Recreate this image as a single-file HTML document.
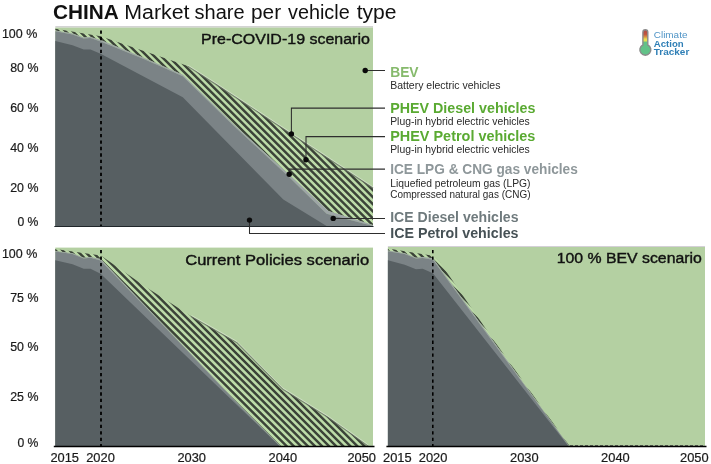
<!DOCTYPE html>
<html><head><meta charset="utf-8"><title>CHINA Market share per vehicle type</title>
<style>
html,body{margin:0;padding:0;background:#fff;}
svg{display:block;font-family:"Liberation Sans",sans-serif;}
</style></head>
<body>
<svg width="711" height="464" viewBox="0 0 711 464">
<defs>

</defs>
<rect width="711" height="464" fill="#fff"/>
<g id="panel-precovid">
<line x1="55.3" y1="26.8" x2="373.0" y2="26.8" stroke="#c4c4c4" stroke-width="1.2"/>
<rect x="55.3" y="27.6" width="317.7" height="198.4" fill="#b4d0a2"/>
<clipPath id="hc1"><polygon points="55.3,28.8 100.6,36.2 143.8,51.1 187.8,66.0 217.1,84.8 265.0,116.4 373.0,187.8 373.0,225.0 328.4,211.0 288.5,174.0 233.4,124.0 182.8,74.8 165.0,67.0 143.8,57.7 100.6,40.1 90.5,37.1 83.7,37.6 72.5,33.5 55.3,30.4"/></clipPath><g clip-path="url(#hc1)"><polygon points="55.3,28.8 100.6,36.2 143.8,51.1 187.8,66.0 217.1,84.8 265.0,116.4 373.0,187.8 373.0,225.0 328.4,211.0 288.5,174.0 233.4,124.0 182.8,74.8 165.0,67.0 143.8,57.7 100.6,40.1 90.5,37.1 83.7,37.6 72.5,33.5 55.3,30.4" fill="#bcdba8"/><path d="M372.3 26.8L375.0 29.5M365.2 26.8L375.0 36.6M358.1 26.8L375.0 43.7M351.1 26.8L375.0 50.7M344.0 26.8L375.0 57.8M336.9 26.8L375.0 64.9M329.8 26.8L375.0 72.0M322.8 26.8L375.0 79.0M315.7 26.8L375.0 86.1M308.6 26.8L375.0 93.2M301.6 26.8L375.0 100.2M294.5 26.8L375.0 107.3M287.4 26.8L375.0 114.4M280.3 26.8L375.0 121.5M273.3 26.8L375.0 128.5M266.2 26.8L375.0 135.6M259.1 26.8L375.0 142.7M252.1 26.8L375.0 149.7M245.0 26.8L375.0 156.8M237.9 26.8L375.0 163.9M230.8 26.8L375.0 171.0M223.8 26.8L375.0 178.0M216.7 26.8L375.0 185.1M209.6 26.8L375.0 192.2M202.6 26.8L375.0 199.2M195.5 26.8L375.0 206.3M188.4 26.8L375.0 213.4M181.3 26.8L375.0 220.5M174.3 26.8L374.5 227.0M167.2 26.8L367.4 227.0M160.1 26.8L360.3 227.0M153.1 26.8L353.3 227.0M146.0 26.8L346.2 227.0M138.9 26.8L339.1 227.0M131.8 26.8L332.0 227.0M124.8 26.8L325.0 227.0M117.7 26.8L317.9 227.0M110.6 26.8L310.8 227.0M103.6 26.8L303.8 227.0M96.5 26.8L296.7 227.0M89.4 26.8L289.6 227.0M82.4 26.8L282.6 227.0M75.3 26.8L275.5 227.0M68.2 26.8L268.4 227.0M61.1 26.8L261.3 227.0M54.1 26.8L254.3 227.0M53.3 33.1L247.2 227.0M53.3 40.2L240.1 227.0M53.3 47.2L233.1 227.0M53.3 54.3L226.0 227.0M53.3 61.4L218.9 227.0M53.3 68.5L211.8 227.0M53.3 75.5L204.8 227.0M53.3 82.6L197.7 227.0M53.3 89.7L190.6 227.0M53.3 96.7L183.6 227.0M53.3 103.8L176.5 227.0M53.3 110.9L169.4 227.0M53.3 118.0L162.3 227.0M53.3 125.0L155.3 227.0M53.3 132.1L148.2 227.0M53.3 139.2L141.1 227.0M53.3 146.2L134.1 227.0M53.3 153.3L127.0 227.0M53.3 160.4L119.9 227.0M53.3 167.5L112.8 227.0M53.3 174.5L105.8 227.0M53.3 181.6L98.7 227.0M53.3 188.7L91.6 227.0M53.3 195.7L84.6 227.0M53.3 202.8L77.5 227.0M53.3 209.9L70.4 227.0M53.3 217.0L63.3 227.0M53.3 224.0L56.3 227.0" stroke="#3b4338" stroke-width="2.45" fill="none"/></g>
<polyline points="187.8,66.3 217.1,85.1 265.0,116.7 373.0,188.1" fill="none" stroke="#687264" stroke-width="1.3" stroke-opacity="0.75"/><polyline points="187.8,65.1 217.1,83.9 265.0,115.5 373.0,186.9" fill="none" stroke="#e6eede" stroke-width="1.0" stroke-opacity="0.55"/>
<polygon points="55.3,30.4 72.5,33.5 83.7,37.6 90.5,37.1 100.6,40.1 143.8,57.7 165.0,67.0 182.8,74.8 233.4,124.0 288.5,174.0 328.4,211.0 373.0,225.0 373.0,226.0 326.6,213.7 288.5,176.5 233.4,125.5 182.8,76.2 165.0,68.2 143.8,58.9 100.6,41.4 90.5,38.1 83.7,38.6 72.5,34.4 55.3,31.2" fill="#9ea5a7"/>
<polygon points="55.3,31.2 72.5,34.4 83.7,38.6 90.5,38.1 100.6,41.4 143.8,58.9 165.0,68.2 182.8,76.2 233.4,125.5 288.5,176.5 326.6,213.7 373.0,226.0 373.0,226.0 326.6,226.0 55.3,226.0" fill="#7b8386"/>
<polygon points="55.3,40.9 72.5,45.2 83.7,49.5 90.5,49.5 100.6,53.7 182.8,97.2 283.3,199.5 326.6,226.0 326.6,226.0 55.3,226.0" fill="#575f62"/>
<line x1="101" y1="30.4" x2="101" y2="226.0" stroke="#000" stroke-width="1.8" stroke-dasharray="3.3 3.17"/>
<line x1="54.3" y1="226.5" x2="373.5" y2="226.5" stroke="#20262a" stroke-width="1.1"/>
</g>
<g id="panel-current">
<rect x="55.3" y="247.6" width="317.7" height="198.29999999999998" fill="#b4d0a2"/>
<clipPath id="hc2"><polygon points="55.3,248.9 100.8,255.5 146.2,287.3 191.6,316.4 237.0,342.4 282.8,388.9 327.9,417.0 368.4,445.9 280.5,445.9 234.8,400.0 177.9,340.0 100.6,259.0 90.5,256.9 83.7,257.7 72.5,253.2 55.3,250.9"/></clipPath><g clip-path="url(#hc2)"><polygon points="55.3,248.9 100.8,255.5 146.2,287.3 191.6,316.4 237.0,342.4 282.8,388.9 327.9,417.0 368.4,445.9 280.5,445.9 234.8,400.0 177.9,340.0 100.6,259.0 90.5,256.9 83.7,257.7 72.5,253.2 55.3,250.9" fill="#bcdba8"/><path d="M370.3 246.9L370.4 247.0M363.2 246.9L370.4 254.1M356.1 246.9L370.4 261.2M349.0 246.9L370.4 268.3M342.0 246.9L370.4 275.3M334.9 246.9L370.4 282.4M327.8 246.9L370.4 289.5M320.8 246.9L370.4 296.5M313.7 246.9L370.4 303.6M306.6 246.9L370.4 310.7M299.6 246.9L370.4 317.7M292.5 246.9L370.4 324.8M285.4 246.9L370.4 331.9M278.3 246.9L370.4 339.0M271.3 246.9L370.4 346.0M264.2 246.9L370.4 353.1M257.1 246.9L370.4 360.2M250.1 246.9L370.4 367.2M243.0 246.9L370.4 374.3M235.9 246.9L370.4 381.4M228.8 246.9L370.4 388.5M221.8 246.9L370.4 395.5M214.7 246.9L370.4 402.6M207.6 246.9L370.4 409.7M200.6 246.9L370.4 416.7M193.5 246.9L370.4 423.8M186.4 246.9L370.4 430.9M179.3 246.9L370.4 438.0M172.3 246.9L370.4 445.0M165.2 246.9L366.2 447.9M158.1 246.9L359.1 447.9M151.1 246.9L352.1 447.9M144.0 246.9L345.0 447.9M136.9 246.9L337.9 447.9M129.8 246.9L330.8 447.9M122.8 246.9L323.8 447.9M115.7 246.9L316.7 447.9M108.6 246.9L309.6 447.9M101.6 246.9L302.6 447.9M94.5 246.9L295.5 447.9M87.4 246.9L288.4 447.9M80.3 246.9L281.3 447.9M73.3 246.9L274.3 447.9M66.2 246.9L267.2 447.9M59.1 246.9L260.1 447.9M53.3 248.1L253.1 447.9M53.3 255.2L246.0 447.9M53.3 262.3L238.9 447.9M53.3 269.3L231.9 447.9M53.3 276.4L224.8 447.9M53.3 283.5L217.7 447.9M53.3 290.6L210.6 447.9M53.3 297.6L203.6 447.9M53.3 304.7L196.5 447.9M53.3 311.8L189.4 447.9M53.3 318.8L182.4 447.9M53.3 325.9L175.3 447.9M53.3 333.0L168.2 447.9M53.3 340.1L161.1 447.9M53.3 347.1L154.1 447.9M53.3 354.2L147.0 447.9M53.3 361.3L139.9 447.9M53.3 368.3L132.9 447.9M53.3 375.4L125.8 447.9M53.3 382.5L118.7 447.9M53.3 389.6L111.6 447.9M53.3 396.6L104.6 447.9M53.3 403.7L97.5 447.9M53.3 410.8L90.4 447.9M53.3 417.8L83.4 447.9M53.3 424.9L76.3 447.9M53.3 432.0L69.2 447.9M53.3 439.1L62.1 447.9M53.3 446.1L55.1 447.9" stroke="#3b4338" stroke-width="2.45" fill="none"/></g>
<polyline points="191.6,316.7 237.0,342.7 282.8,389.2 327.9,417.3 368.4,446.2" fill="none" stroke="#687264" stroke-width="1.3" stroke-opacity="0.75"/><polyline points="191.6,315.5 237.0,341.5 282.8,388.0 327.9,416.1 368.4,445.0" fill="none" stroke="#e6eede" stroke-width="1.0" stroke-opacity="0.55"/>
<polygon points="55.3,250.9 72.5,253.2 83.7,257.7 90.5,256.9 100.6,259.0 177.9,340.0 234.8,400.0 280.5,445.9 280.0,445.9 234.8,400.6 177.9,340.7 100.6,260.4 90.5,257.7 83.7,258.6 72.5,254.0 55.3,251.6" fill="#9ea5a7"/>
<polygon points="55.3,251.6 72.5,254.0 83.7,258.6 90.5,257.7 100.6,260.4 177.9,340.7 234.8,400.6 280.0,445.9 280.0,445.9 55.3,445.9" fill="#7b8386"/>
<polygon points="55.3,260.2 72.5,264.3 83.7,268.8 90.5,268.8 100.6,273.7 279.5,445.9 55.3,445.9" fill="#575f62"/>
<line x1="101" y1="250" x2="101" y2="445.9" stroke="#000" stroke-width="1.8" stroke-dasharray="3.3 3.17"/>
<line x1="53.8" y1="446.5" x2="374.5" y2="446.5" stroke="#000" stroke-width="1.35"/>
</g>
<g id="panel-bev">
<line x1="387.9" y1="246.5" x2="705.0" y2="246.5" stroke="#cfcbd2" stroke-width="0.9"/>
<rect x="387.9" y="247.0" width="317.1" height="198.89999999999998" fill="#b4d0a2"/>
<clipPath id="hc3"><polygon points="387.9,248.5 432.9,255.7 440.0,262.6 495.3,342.5 569.6,445.9 569.1,445.9 494.7,343.0 432.9,258.3 422.7,257.0 416.0,257.7 404.7,253.2 387.9,250.6"/></clipPath><g clip-path="url(#hc3)"><polygon points="387.9,248.5 432.9,255.7 440.0,262.6 495.3,342.5 569.6,445.9 569.1,445.9 494.7,343.0 432.9,258.3 422.7,257.0 416.0,257.7 404.7,253.2 387.9,250.6" fill="#bcdba8"/><path d="M567.9 246.5L571.6 250.2M560.8 246.5L571.6 257.3M553.7 246.5L571.6 264.4M546.6 246.5L571.6 271.5M539.6 246.5L571.6 278.5M532.5 246.5L571.6 285.6M525.4 246.5L571.6 292.7M518.4 246.5L571.6 299.7M511.3 246.5L571.6 306.8M504.2 246.5L571.6 313.9M497.1 246.5L571.6 321.0M490.1 246.5L571.6 328.0M483.0 246.5L571.6 335.1M475.9 246.5L571.6 342.2M468.9 246.5L571.6 349.2M461.8 246.5L571.6 356.3M454.7 246.5L571.6 363.4M447.6 246.5L571.6 370.5M440.6 246.5L571.6 377.5M433.5 246.5L571.6 384.6M426.4 246.5L571.6 391.7M419.4 246.5L571.6 398.7M412.3 246.5L571.6 405.8M405.2 246.5L571.6 412.9M398.1 246.5L571.6 420.0M391.1 246.5L571.6 427.0M385.9 248.4L571.6 434.1M385.9 255.5L571.6 441.2M385.9 262.5L571.3 447.9M385.9 269.6L564.2 447.9M385.9 276.7L557.1 447.9M385.9 283.8L550.0 447.9M385.9 290.8L543.0 447.9M385.9 297.9L535.9 447.9M385.9 305.0L528.8 447.9M385.9 312.0L521.8 447.9M385.9 319.1L514.7 447.9M385.9 326.2L507.6 447.9M385.9 333.2L500.6 447.9M385.9 340.3L493.5 447.9M385.9 347.4L486.4 447.9M385.9 354.5L479.3 447.9M385.9 361.5L472.3 447.9M385.9 368.6L465.2 447.9M385.9 375.7L458.1 447.9M385.9 382.7L451.1 447.9M385.9 389.8L444.0 447.9M385.9 396.9L436.9 447.9M385.9 404.0L429.8 447.9M385.9 411.0L422.8 447.9M385.9 418.1L415.7 447.9M385.9 425.2L408.6 447.9M385.9 432.2L401.6 447.9M385.9 439.3L394.5 447.9M385.9 446.4L387.4 447.9" stroke="#3b4338" stroke-width="2.45" fill="none"/></g>
<polygon points="387.9,250.6 404.7,253.2 416.0,257.7 422.7,257.0 432.9,258.3 494.7,343.0 569.1,445.9 568.8,445.9 494.3,344.0 432.9,259.7 422.7,257.9 416.0,258.6 404.7,254.0 387.9,251.3" fill="#9ea5a7"/>
<polygon points="387.9,251.3 404.7,254.0 416.0,258.6 422.7,257.9 432.9,259.7 494.3,344.0 568.8,445.9 569.5,445.9 387.9,445.9" fill="#7b8386"/>
<polygon points="387.9,260.2 404.7,264.7 416.0,269.2 422.7,268.8 432.9,273.3 568.3,445.9 387.9,445.9" fill="#575f62"/>
<line x1="432.8" y1="250" x2="432.8" y2="445.9" stroke="#000" stroke-width="1.6" stroke-dasharray="3.3 3.17"/>
<line x1="570" y1="445.5" x2="705.0" y2="445.5" stroke="#333" stroke-width="0.7" stroke-dasharray="3 2"/>
<line x1="386.4" y1="446.5" x2="706.5" y2="446.5" stroke="#000" stroke-width="1.35"/>
</g>
<g id="leaders">
<path d="M365.2 70.5H385" fill="none" stroke="#2e2e2e" stroke-width="1.05"/>
<circle cx="365.2" cy="70.5" r="2.7" fill="#0a0a0a"/>
<path d="M291.4 133.9V108.1H385" fill="none" stroke="#2e2e2e" stroke-width="1.05"/>
<circle cx="291.4" cy="133.9" r="2.7" fill="#0a0a0a"/>
<path d="M306 159.7V136.6H385" fill="none" stroke="#2e2e2e" stroke-width="1.05"/>
<circle cx="306" cy="159.7" r="2.7" fill="#0a0a0a"/>
<path d="M289.2 174.3V169.1H385" fill="none" stroke="#2e2e2e" stroke-width="1.05"/>
<circle cx="289.2" cy="174.3" r="2.7" fill="#0a0a0a"/>
<path d="M333.2 218.4H385" fill="none" stroke="#2e2e2e" stroke-width="1.05"/>
<circle cx="333.2" cy="218.4" r="2.7" fill="#0a0a0a"/>
<path d="M249.5 220.1V233.5H385" fill="none" stroke="#2e2e2e" stroke-width="1.05"/>
<circle cx="249.5" cy="220.1" r="2.7" fill="#0a0a0a"/>
</g>
<g id="labels">
<text x="37.3" y="38.2" font-size="12" fill="#1a1a1a" text-anchor="end" textLength="35.4" lengthAdjust="spacingAndGlyphs" stroke="#1a1a1a" stroke-width="0.2">100 %</text>
<text x="38.4" y="72.0" font-size="12" fill="#1a1a1a" text-anchor="end" textLength="28.2" lengthAdjust="spacingAndGlyphs" stroke="#1a1a1a" stroke-width="0.2">80 %</text>
<text x="38.4" y="111.6" font-size="12" fill="#1a1a1a" text-anchor="end" textLength="28.2" lengthAdjust="spacingAndGlyphs" stroke="#1a1a1a" stroke-width="0.2">60 %</text>
<text x="38.4" y="151.6" font-size="12" fill="#1a1a1a" text-anchor="end" textLength="28.2" lengthAdjust="spacingAndGlyphs" stroke="#1a1a1a" stroke-width="0.2">40 %</text>
<text x="38.4" y="191.6" font-size="12" fill="#1a1a1a" text-anchor="end" textLength="28.2" lengthAdjust="spacingAndGlyphs" stroke="#1a1a1a" stroke-width="0.2">20 %</text>
<text x="38.4" y="226.0" font-size="12" fill="#1a1a1a" text-anchor="end" textLength="21.0" lengthAdjust="spacingAndGlyphs" stroke="#1a1a1a" stroke-width="0.2">0 %</text>
<text x="37.3" y="257.5" font-size="12" fill="#1a1a1a" text-anchor="end" textLength="35.4" lengthAdjust="spacingAndGlyphs" stroke="#1a1a1a" stroke-width="0.2">100 %</text>
<text x="38.4" y="301.6" font-size="12" fill="#1a1a1a" text-anchor="end" textLength="28.2" lengthAdjust="spacingAndGlyphs" stroke="#1a1a1a" stroke-width="0.2">75 %</text>
<text x="38.4" y="351.3" font-size="12" fill="#1a1a1a" text-anchor="end" textLength="28.2" lengthAdjust="spacingAndGlyphs" stroke="#1a1a1a" stroke-width="0.2">50 %</text>
<text x="38.4" y="400.8" font-size="12" fill="#1a1a1a" text-anchor="end" textLength="28.2" lengthAdjust="spacingAndGlyphs" stroke="#1a1a1a" stroke-width="0.2">25 %</text>
<text x="38.4" y="447.4" font-size="12" fill="#1a1a1a" text-anchor="end" textLength="21.0" lengthAdjust="spacingAndGlyphs" stroke="#1a1a1a" stroke-width="0.2">0 %</text>
<text x="50.4" y="461.8" font-size="12" fill="#1a1a1a" textLength="28.6" lengthAdjust="spacingAndGlyphs" stroke="#1a1a1a" stroke-width="0.2">2015</text>
<text x="100.5" y="461.8" font-size="12" fill="#1a1a1a" text-anchor="middle" textLength="28.6" lengthAdjust="spacingAndGlyphs" stroke="#1a1a1a" stroke-width="0.2">2020</text>
<text x="191.7" y="461.8" font-size="12" fill="#1a1a1a" text-anchor="middle" textLength="28.6" lengthAdjust="spacingAndGlyphs" stroke="#1a1a1a" stroke-width="0.2">2030</text>
<text x="282.8" y="461.8" font-size="12" fill="#1a1a1a" text-anchor="middle" textLength="28.6" lengthAdjust="spacingAndGlyphs" stroke="#1a1a1a" stroke-width="0.2">2040</text>
<text x="376.0" y="461.8" font-size="12" fill="#1a1a1a" text-anchor="end" textLength="28.6" lengthAdjust="spacingAndGlyphs" stroke="#1a1a1a" stroke-width="0.2">2050</text>
<text x="383.0" y="461.8" font-size="12" fill="#1a1a1a" textLength="28.6" lengthAdjust="spacingAndGlyphs" stroke="#1a1a1a" stroke-width="0.2">2015</text>
<text x="433.09999999999997" y="461.8" font-size="12" fill="#1a1a1a" text-anchor="middle" textLength="28.6" lengthAdjust="spacingAndGlyphs" stroke="#1a1a1a" stroke-width="0.2">2020</text>
<text x="524.3" y="461.8" font-size="12" fill="#1a1a1a" text-anchor="middle" textLength="28.6" lengthAdjust="spacingAndGlyphs" stroke="#1a1a1a" stroke-width="0.2">2030</text>
<text x="615.4" y="461.8" font-size="12" fill="#1a1a1a" text-anchor="middle" textLength="28.6" lengthAdjust="spacingAndGlyphs" stroke="#1a1a1a" stroke-width="0.2">2040</text>
<text x="708.5999999999999" y="461.8" font-size="12" fill="#1a1a1a" text-anchor="end" textLength="28.6" lengthAdjust="spacingAndGlyphs" stroke="#1a1a1a" stroke-width="0.2">2050</text>
<text x="52.9" y="18.7" font-size="20" fill="#111" font-weight="bold" textLength="65.8" lengthAdjust="spacingAndGlyphs">CHINA</text>
<text x="124.25" y="18.7" font-size="20" fill="#111" textLength="65.27" lengthAdjust="spacingAndGlyphs">Market</text>
<text x="194.6" y="18.7" font-size="20" fill="#111" textLength="50.04" lengthAdjust="spacingAndGlyphs">share</text>
<text x="251.0" y="18.7" font-size="20" fill="#111" textLength="30.09" lengthAdjust="spacingAndGlyphs">per</text>
<text x="288.0" y="18.7" font-size="20" fill="#111" textLength="61.66" lengthAdjust="spacingAndGlyphs">vehicle</text>
<text x="356.7" y="18.7" font-size="20" fill="#111" textLength="39.86" lengthAdjust="spacingAndGlyphs">type</text>
<text x="369.9" y="44.1" font-size="15.2" fill="#111" text-anchor="end" textLength="168.8" lengthAdjust="spacingAndGlyphs" stroke="#111" stroke-width="0.4">Pre-COVID-19 scenario</text>
<text x="369.2" y="264.7" font-size="15.2" fill="#111" text-anchor="end" textLength="184.0" lengthAdjust="spacingAndGlyphs" stroke="#111" stroke-width="0.4">Current Policies scenario</text>
<text x="701.9" y="263.3" font-size="15.2" fill="#111" text-anchor="end" textLength="145.2" lengthAdjust="spacingAndGlyphs" stroke="#111" stroke-width="0.4">100 % BEV scenario</text>
<text x="390.2" y="76.7" font-size="13.9" fill="#86ba6c" font-weight="bold" textLength="28.4" lengthAdjust="spacingAndGlyphs">BEV</text>
<text x="390.2" y="88.7" font-size="10.3" fill="#2a2a2a" textLength="110.2" lengthAdjust="spacingAndGlyphs">Battery electric vehicles</text>
<text x="390.2" y="112.7" font-size="13.9" fill="#5aaa32" font-weight="bold" textLength="145.2" lengthAdjust="spacingAndGlyphs">PHEV Diesel vehicles</text>
<text x="390.2" y="124.9" font-size="10.3" fill="#2a2a2a" textLength="139.5" lengthAdjust="spacingAndGlyphs">Plug-in hybrid electric vehicles</text>
<text x="390.2" y="140.8" font-size="13.9" fill="#5aaa32" font-weight="bold" textLength="145.2" lengthAdjust="spacingAndGlyphs">PHEV Petrol vehicles</text>
<text x="390.2" y="152.8" font-size="10.3" fill="#2a2a2a" textLength="139.5" lengthAdjust="spacingAndGlyphs">Plug-in hybrid electric vehicles</text>
<text x="390.2" y="174.0" font-size="13.9" fill="#8e979a" font-weight="bold" textLength="187.6" lengthAdjust="spacingAndGlyphs">ICE LPG &amp; CNG gas vehicles</text>
<text x="390.2" y="187.0" font-size="10.3" fill="#2a2a2a" textLength="140.3" lengthAdjust="spacingAndGlyphs">Liquefied petroleum gas (LPG)</text>
<text x="390.2" y="197.8" font-size="10.3" fill="#2a2a2a" textLength="140.3" lengthAdjust="spacingAndGlyphs">Compressed natural gas (CNG)</text>
<text x="390.2" y="221.8" font-size="13.9" fill="#6f7a7d" font-weight="bold" textLength="128.3" lengthAdjust="spacingAndGlyphs">ICE Diesel vehicles</text>
<text x="390.2" y="238.3" font-size="13.9" fill="#465155" font-weight="bold" textLength="128.3" lengthAdjust="spacingAndGlyphs">ICE Petrol vehicles</text>
</g>
<g id="logo">
<defs><linearGradient id="tg" gradientUnits="userSpaceOnUse" x1="0" y1="30.5" x2="0" y2="43.5">
<stop offset="0" stop-color="#b24b43"/><stop offset="0.3" stop-color="#c1563f"/><stop offset="0.5" stop-color="#dc9443"/><stop offset="0.66" stop-color="#e8e052"/><stop offset="0.8" stop-color="#e4e054"/><stop offset="0.9" stop-color="#62c288"/><stop offset="1" stop-color="#62c288"/>
</linearGradient></defs>
<path d="M642.9 32.2a2.45 2.45 0 0 1 4.9 0V44.8a5.5 5.5 0 1 1 -4.9 0Z" fill="url(#tg)" stroke="#8b8b8b" stroke-width="1.4"/>
<text x="653.8" y="38.4" font-size="9.5" fill="#4f94c6" textLength="33.6" lengthAdjust="spacingAndGlyphs">Climate</text>
<text x="653.8" y="46.8" font-size="9.5" font-weight="bold" fill="#2f7fb6" textLength="29.9" lengthAdjust="spacingAndGlyphs">Action</text>
<text x="653.8" y="54.9" font-size="9.5" font-weight="bold" fill="#2f7fb6" textLength="35.5" lengthAdjust="spacingAndGlyphs">Tracker</text>
</g>
</svg>
</body></html>
